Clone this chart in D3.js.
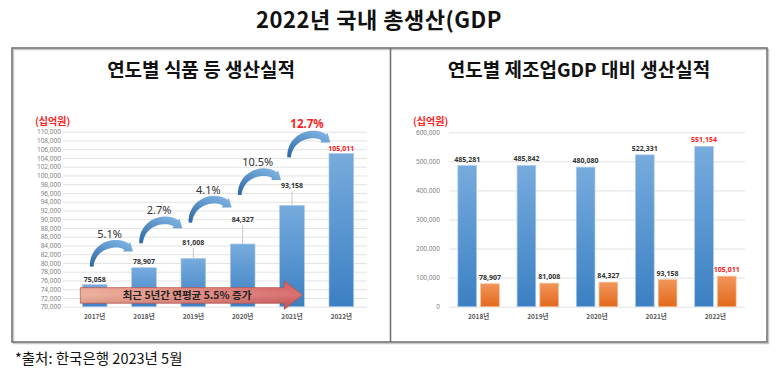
<!DOCTYPE html>
<html>
<head>
<meta charset="utf-8">
<script src="https://cdn.jsdelivr.net/npm/d3@7"></script>
<style>
  body { margin: 0; background: #fff; }
  svg { display: block; font-family: "Noto Sans CJK KR", "Noto Sans", sans-serif; }
</style>
</head>
<body>
<svg id="svg"></svg>
<script>
// 데이터
const foodYears = ["2017년", "2018년", "2019년", "2020년", "2021년", "2022년"];
const foodValues = [75058, 78907, 81008, 84327, 93158, 105011];
const growthLabels = ["5.1%", "2.7%", "4.1%", "10.5%", "12.7%"];
const avgLabel = "최근 5년간 연평균 5.5% 증가";

const gdpYears = ["2018년", "2019년", "2020년", "2021년", "2022년"];
const gdpValues = [485281, 485842, 480080, 522331, 551154];
const gdpFoodValues = [78907, 81008, 84327, 93158, 105011];

const width = 779, height = 371;
const fmt = d3.format(",");

const svg = d3.select("#svg").attr("width", width).attr("height", height);
const defs = svg.append("defs");

function vGrad(id, top, bottom) {
    const g = defs.append("linearGradient").attr("id", id)
        .attr("x1", 0).attr("y1", 0).attr("x2", 0).attr("y2", 1);
    g.append("stop").attr("offset", "0%").attr("stop-color", top);
    g.append("stop").attr("offset", "100%").attr("stop-color", bottom);
}
vGrad("blueBar", "#77abdd", "#3b80c3");
vGrad("orangeBar", "#f2955a", "#e2691b");

const ag = defs.append("linearGradient").attr("id", "arrowBlue")
    .attr("x1", 0).attr("y1", 1).attr("x2", 0.7).attr("y2", 0);
ag.append("stop").attr("offset", "0%").attr("stop-color", "#2b67a3");
ag.append("stop").attr("offset", "100%").attr("stop-color", "#7cb0e0");

const rg = defs.append("linearGradient").attr("id", "arrowRed")
    .attr("x1", 0).attr("y1", 0).attr("x2", 1).attr("y2", 0);
rg.append("stop").attr("offset", "0%").attr("stop-color", "#eaa58f");
rg.append("stop").attr("offset", "100%").attr("stop-color", "#d2585a");
const rs = defs.append("linearGradient").attr("id", "arrowShade")
    .attr("x1", 0).attr("y1", 0).attr("x2", 0).attr("y2", 1);
rs.append("stop").attr("offset", "0%").attr("stop-color", "#ffffff").attr("stop-opacity", 0);
rs.append("stop").attr("offset", "50%").attr("stop-color", "#ffffff").attr("stop-opacity", 0.15);
rs.append("stop").attr("offset", "100%").attr("stop-color", "#000000").attr("stop-opacity", 0.08);

// 제목
svg.append("text").attr("x", 379).attr("y", 28).attr("text-anchor", "middle")
    .attr("font-size", 22).attr("font-weight", 700).attr("letter-spacing", 0.5).attr("fill", "#111")
    .text("2022년 국내 총생산(GDP");

// 테두리
svg.append("rect").attr("x", 13.5).attr("y", 49.5).attr("width", 755).attr("height", 294)
    .attr("fill", "none").attr("stroke", "#c8c8c8").attr("stroke-width", 1.5);
svg.append("rect").attr("x", 12).attr("y", 48).attr("width", 755).attr("height", 294)
    .attr("fill", "none").attr("stroke", "#6b6b6b").attr("stroke-width", 1.5);
svg.append("line").attr("x1", 390.5).attr("x2", 390.5).attr("y1", 48).attr("y2", 342)
    .attr("stroke", "#6b6b6b").attr("stroke-width", 1.5);

svg.append("text").attr("x", 15).attr("y", 364)
    .attr("font-size", 14.5).attr("fill", "#111").text("*출처: 한국은행 2023년 5월");

function panelTitle(x, t) {
    svg.append("text").attr("x", x).attr("y", 77).attr("text-anchor", "middle")
        .attr("font-size", 19).attr("font-weight", 700).attr("fill", "#111").text(t);
}
panelTitle(201, "연도별 식품 등 생산실적");
panelTitle(579, "연도별 제조업GDP 대비 생산실적");

function unitLabel(x) {
    svg.append("text").attr("x", x).attr("y", 125)
        .attr("font-size", 10).attr("font-weight", 700).attr("fill", "#ff2020").text("(십억원)");
}
unitLabel(35);
unitLabel(413);

function drawAxis(g, scale, x0, x1, pad, ticks) {
    g.attr("transform", `translate(${x0},0)`)
        .call(d3.axisLeft(scale).tickValues(ticks).tickFormat(fmt)
            .tickSize(-(x1 - x0)).tickPadding(pad));
    g.select(".domain").remove();
    g.selectAll(".tick line").attr("stroke", "#e2e2e2").attr("stroke-width", 1);
    g.selectAll(".tick text").attr("font-size", 6.5).attr("fill", "#808080")
        .attr("font-family", "'Noto Sans', sans-serif");
}

// ---------- 왼쪽: 연도별 식품 등 생산실적 ----------
const xL = d3.scaleBand().domain(foodYears).range([70, 366]).paddingInner(0.5).paddingOuter(0.25);
const yL = d3.scaleLinear().domain([70000, 110000]).range([306.7, 131.7]);

drawAxis(svg.append("g"), yL, 63, 367, 2, d3.range(70000, 110001, 2000));

const left = svg.append("g");
left.selectAll("rect.bar").data(foodValues).join("rect").attr("class", "bar")
    .attr("x", (d, i) => xL(foodYears[i]))
    .attr("y", d => yL(d))
    .attr("width", xL.bandwidth())
    .attr("height", d => yL(70000) - yL(d))
    .attr("fill", "url(#blueBar)")
    .attr("stroke", "#a8c9ec").attr("stroke-width", 0.7);

// 데이터 레이블 위치 (막대 위 간격, px)
const labelLift = [3, 3.5, 14, 22, 17, 3];
const labelBase = foodValues.map((d, i) => yL(d) - labelLift[i]);
const cxL = i => xL(foodYears[i]) + xL.bandwidth() / 2;

foodValues.forEach((d, i) => {
    if (labelLift[i] < 5) return;
    left.append("line")
        .attr("x1", cxL(i)).attr("x2", cxL(i))
        .attr("y1", labelBase[i] + 3).attr("y2", yL(d))
        .attr("stroke", "#bdbdbd").attr("stroke-width", 0.8);
});

left.selectAll("text.val").data(foodValues).join("text").attr("class", "val")
    .attr("x", (d, i) => cxL(i))
    .attr("y", (d, i) => labelBase[i])
    .attr("text-anchor", "middle")
    .attr("font-size", 7).attr("font-weight", 700)
    .attr("font-family", "'Noto Sans', sans-serif")
    .attr("fill", (d, i) => i === foodValues.length - 1 ? "#ff1a1a" : "#333")
    .text(d => fmt(d));

left.selectAll("text.xl").data(foodYears).join("text").attr("class", "xl")
    .attr("x", d => xL(d) + xL.bandwidth() / 2).attr("y", 318.5)
    .attr("text-anchor", "middle").attr("font-size", 6.5).attr("font-weight", 700)
    .attr("fill", "#595959").text(d => d);

// 곡선 화살표
const arrowRise = [12, 18, 19, 24, 28];
function curvedArrow(S, T) {
    const P1 = [S[0] + 1, S[1] - 22];
    const P2 = [T[0] - 16, T[1] - 12];
    let dx = T[0] - P2[0], dy = T[1] - P2[1];
    const len = Math.hypot(dx, dy); dx /= len; dy /= len;
    const E = [T[0] - dx * 8, T[1] - dy * 8];
    const bez = t => {
        const u = 1 - t;
        return [
            u * u * u * S[0] + 3 * u * u * t * P1[0] + 3 * u * t * t * P2[0] + t * t * t * E[0],
            u * u * u * S[1] + 3 * u * u * t * P1[1] + 3 * u * t * t * P2[1] + t * t * t * E[1]
        ];
    };
    const N = 40, l = [], r = [];
    for (let k = 0; k <= N; k++) {
        const t = k / N;
        const p = bez(t), q = bez(Math.min(1, t + 0.01)), o = bez(Math.max(0, t - 0.01));
        let tx = q[0] - o[0], ty = q[1] - o[1];
        const tl = Math.hypot(tx, ty); tx /= tl; ty /= tl;
        const hw = 1.8 + 2.0 * Math.sin(Math.min(1, t * 1.4) * Math.PI / 2);
        l.push([p[0] - ty * hw, p[1] + tx * hw]);
        r.push([p[0] + ty * hw, p[1] - tx * hw]);
    }
    const hw = 6;
    const pts = l.concat([[E[0] - dy * hw, E[1] + dx * hw], T, [E[0] + dy * hw, E[1] - dx * hw]], r.reverse());
    return d3.line()(pts) + "Z";
}

growthLabels.forEach((lab, i) => {
    const S = [cxL(i) - 3, labelBase[i] - 3 - arrowRise[i]];
    const T = [cxL(i + 1) - 11, S[1] - 15];
    left.append("path").attr("d", curvedArrow(S, T)).attr("fill", "url(#arrowBlue)");
    const last = i === growthLabels.length - 1;
    left.append("text").attr("x", S[0] + 18).attr("y", S[1] - 29)
        .attr("text-anchor", "middle")
        .attr("font-size", last ? 11.5 : 11).attr("font-weight", last ? 700 : 400)
        .attr("font-family", "'Noto Sans', sans-serif")
        .attr("fill", last ? "#ff1a1a" : "#333").text(lab);
});

// 연평균 화살표
const bx0 = xL(foodYears[0]) - 2, bx1 = xL(foodYears[4]) + xL.bandwidth() - 2;
const bodyTop = yL(74350), bodyBot = yL(70800), headTop = yL(75950), headBot = yL(69400);
const hx = bx1 - 18;
const bigArrow = d3.line()([[bx0, bodyTop], [hx, bodyTop], [hx, headTop], [bx1, (headTop + headBot) / 2],
    [hx, headBot], [hx, bodyBot], [bx0, bodyBot]]) + "Z";
left.append("path").attr("d", bigArrow).attr("fill", "url(#arrowRed)")
    .attr("stroke", "#b9504c").attr("stroke-width", 0.8);
left.append("path").attr("d", bigArrow).attr("fill", "url(#arrowShade)");
left.append("text").attr("x", 187).attr("y", (bodyTop + bodyBot) / 2 + 3.8)
    .attr("text-anchor", "middle").attr("font-size", 10.5).attr("font-weight", 700)
    .attr("fill", "#222").text(avgLabel);

// ---------- 오른쪽: 제조업GDP 대비 ----------
const x0R = d3.scaleBand().domain(gdpYears).range([449, 745]).paddingInner(0.3).paddingOuter(0.15);
const x1R = d3.scaleBand().domain(["gdp", "food"]).range([0, x0R.bandwidth()]).paddingInner(0.18);
const yR = d3.scaleLinear().domain([0, 600000]).range([306.7, 132.3]);

drawAxis(svg.append("g"), yR, 449, 745, 9, d3.range(0, 600001, 100000));

const right = svg.append("g");
const groups = gdpYears.map((y, i) => ({ year: y, i, vals: [["gdp", gdpValues[i]], ["food", gdpFoodValues[i]]] }));
const cells = right.selectAll("g.grp").data(groups).join("g").attr("class", "grp")
    .attr("transform", d => `translate(${x0R(d.year)},0)`);

cells.selectAll("rect").data(d => d.vals).join("rect")
    .attr("x", d => x1R(d[0]))
    .attr("y", d => yR(d[1]))
    .attr("width", x1R.bandwidth())
    .attr("height", d => yR(0) - yR(d[1]))
    .attr("fill", d => d[0] === "gdp" ? "url(#blueBar)" : "url(#orangeBar)")
    .attr("stroke", d => d[0] === "gdp" ? "#a8c9ec" : "#f6bf98").attr("stroke-width", 0.7);

cells.each(function (g) {
    d3.select(this).selectAll("text.val").data(g.vals).join("text").attr("class", "val")
        .attr("x", d => x1R(d[0]) + x1R.bandwidth() / 2)
        .attr("y", d => yR(d[1]) - 4)
        .attr("text-anchor", "middle").attr("font-size", 7).attr("font-weight", 700)
        .attr("font-family", "'Noto Sans', sans-serif")
        .attr("fill", g.i === gdpYears.length - 1 ? "#ff1a1a" : "#333")
        .text(d => fmt(d[1]));
});

right.selectAll("text.xl").data(gdpYears).join("text").attr("class", "xl")
    .attr("x", d => x0R(d) + x0R.bandwidth() / 2).attr("y", 318.5)
    .attr("text-anchor", "middle").attr("font-size", 6.5).attr("font-weight", 700)
    .attr("fill", "#595959").text(d => d);
</script>
</body>
</html>
